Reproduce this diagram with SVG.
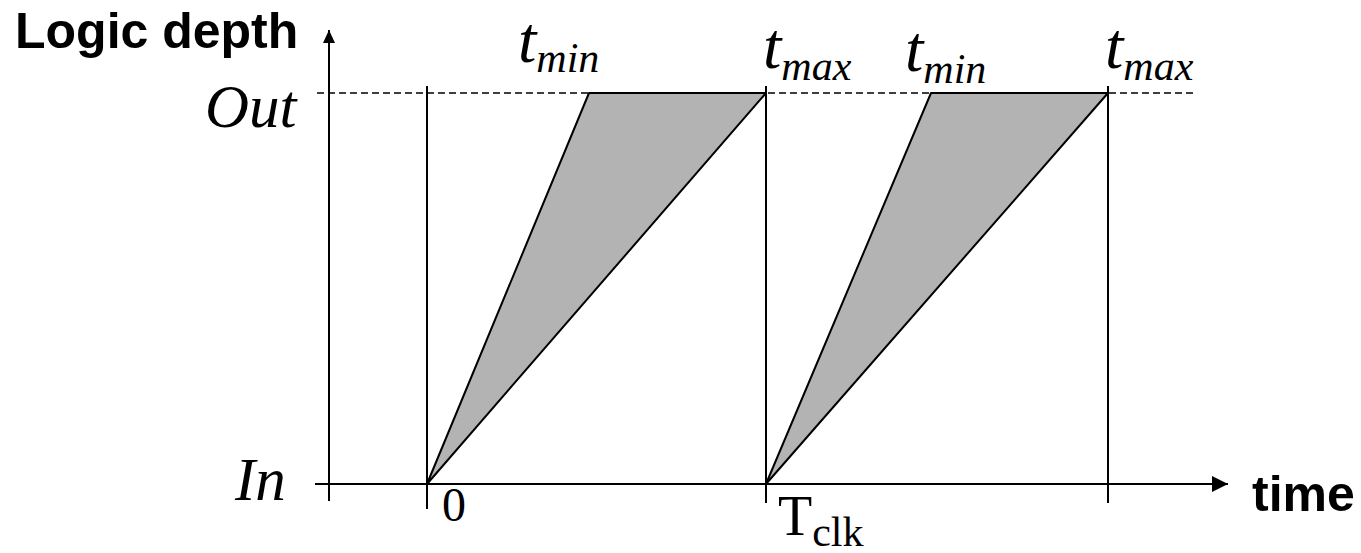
<svg xmlns="http://www.w3.org/2000/svg" width="1361" height="553" viewBox="0 0 1361 553">
<style>
.ax{stroke:#000;stroke-width:2;fill:none}
.tri{fill:#b3b3b3;stroke:#000;stroke-width:2;stroke-linejoin:round}
.dash{stroke:#000;stroke-width:1.6;stroke-dasharray:7 4;fill:none}
.bold{font-family:"Liberation Sans",Arial,sans-serif;font-weight:bold;font-size:50px;fill:#000}
.it{font-family:"Liberation Serif","Times New Roman",serif;font-style:italic;fill:#000}
.rm{font-family:"Liberation Serif","Times New Roman",serif;fill:#000}
</style>
<defs>
<marker id="ahUp" markerWidth="12" markerHeight="14" refX="6" refY="0" orient="0" markerUnits="userSpaceOnUse">
<path d="M0,13 L6,0 L12,13 Z" fill="#000"/>
</marker>
<marker id="ahRight" markerWidth="16" markerHeight="18" refX="16" refY="9" orient="0" markerUnits="userSpaceOnUse">
<path d="M0,1 L16,9 L0,17 Z" fill="#000"/>
</marker>
</defs>
<g id="connectors">
<line class="dash" x1="317" y1="93" x2="1195" y2="93"/>
<line class="ax" x1="329" y1="501" x2="329" y2="30" marker-end="url(#ahUp)"/>
<line class="ax" x1="315" y1="484" x2="1228" y2="484" marker-end="url(#ahRight)"/>
<line class="ax" x1="427" y1="86" x2="427" y2="509" stroke-width="1.6"/>
<line class="ax" x1="766" y1="86" x2="766" y2="503" stroke-width="1.6"/>
<line class="ax" x1="1108" y1="86" x2="1108" y2="503" stroke-width="1.6"/>
</g>
<g id="triangle1"><polygon class="tri" points="427,484 589,93 766,93"/></g>
<g id="triangle2"><polygon class="tri" points="766,484 931,93 1108,93"/></g>
<g id="labels">
<text id="ylabel" class="bold" x="15" y="48">Logic depth</text>
<text id="xlabel" class="bold" x="1252" y="511">time</text>
<text id="out" class="it" x="205" y="127" font-size="61">Out</text>
<text id="in" class="it" x="235" y="500" font-size="61">In</text>
<text id="zero" class="rm" x="442" y="521" font-size="48">0</text>
<text id="tclk" class="rm" x="778" y="535" font-size="56">T<tspan font-size="42" dy="11">clk</tspan></text>
<text id="tmin1" class="it" x="518" y="62" font-size="66">t<tspan font-size="42" dy="10">min</tspan></text>
<text id="tmax1" class="it" x="763" y="68" font-size="66">t<tspan font-size="42" dy="12">max</tspan></text>
<text id="tmin2" class="it" x="905" y="71" font-size="66">t<tspan font-size="42" dy="12">min</tspan></text>
<text id="tmax2" class="it" x="1105" y="68" font-size="66">t<tspan font-size="42" dy="12">max</tspan></text>
</g>
</svg>
